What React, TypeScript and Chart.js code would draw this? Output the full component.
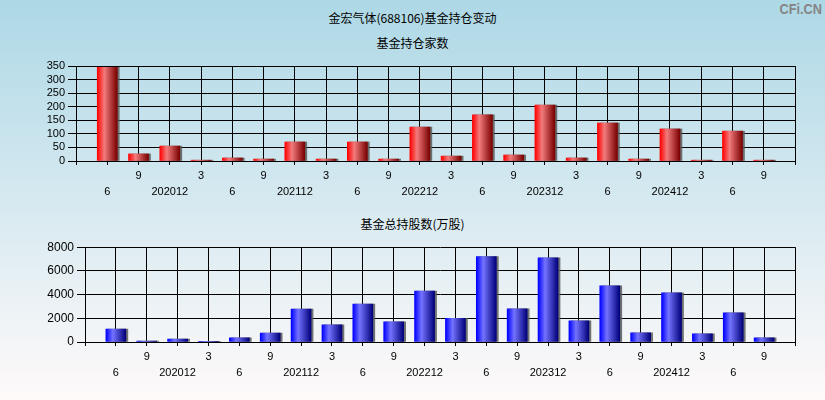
import React, { useEffect, useRef } from 'react';
import { Chart, registerables } from 'chart.js';

Chart.register(...registerables);

// ---- data ----
const periods = [
  '202006', '202009', '202012', '202103', '202106', '202109', '202112', '202203',
  '202206', '202209', '202212', '202303', '202306', '202309', '202312', '202403',
  '202406', '202409', '202412', '202503', '202506', '202509',
];
const tickLabels = [
  '6', '9', '202012', '3', '6', '9', '202112', '3', '6', '9', '202212', '3',
  '6', '9', '202312', '3', '6', '9', '202412', '3', '6', '9',
];
const fundCount = [345, 26, 55, 3, 11, 7, 70, 7, 70, 7, 125, 18, 170, 22, 206, 11, 140, 7, 118, 3, 110, 3];
const fundShares = [1100, 80, 250, 60, 350, 750, 2780, 1450, 3200, 1700, 4300, 2000, 7200, 2800, 7100, 1780, 4740, 780, 4150, 700, 2470, 350];
const countTicks = { max: 350, step: 50 };
const sharesTicks = { max: 8000, step: 2000 };

const mainTitle = '金宏气体(688106)基金持仓变动';
const countTitle = '基金持仓家数';
const sharesTitle = '基金总持股数(万股)';

const NUM_FONT = '"Liberation Sans", Arial, sans-serif';
const CJK_FONT = '"Noto Sans CJK SC", "Noto Sans", sans-serif';

const RED_STOPS: [number, string][] = [[0, '#ff0000'], [0.35, '#f27b7b'], [1, '#7a0000']];
const BLUE_STOPS: [number, string][] = [[0, '#0000ff'], [0.35, '#7373ff'], [1, '#00007a']];

const shadowPlugin = {
  id: 'barShadow',
  beforeDatasetDraw(chart: any) {
    const c = chart.ctx;
    c.save();
    c.shadowColor = 'rgba(90,90,90,0.85)';
    c.shadowOffsetX = 2;
    c.shadowOffsetY = 0;
    c.shadowBlur = 0;
  },
  afterDatasetDraw(chart: any) {
    chart.ctx.restore();
  },
};

function BarPanel(props: {
  values: number[];
  max: number;
  step: number;
  stops: [number, string][];
  axisWidth: number;
  yFontSize: number;
  top: number;
}) {
  const ref = useRef<HTMLCanvasElement | null>(null);
  useEffect(() => {
    if (!ref.current) return;
    const labels = ['', ...periods, ''];
    const data = [null, ...props.values, null];
    const half = 10;
    const chart = new Chart(ref.current, {
      type: 'bar',
      data: {
        labels,
        datasets: [
          {
            data: data as any,
            barThickness: 20,
            borderWidth: 0,
            backgroundColor: (ctx: any) => {
              const ch = ctx.chart;
              const xs = ch.scales && ch.scales.x;
              if (!xs || ctx.type !== 'data') return props.stops[1][1];
              const cx = xs.getPixelForValue(ctx.dataIndex);
              if (!Number.isFinite(cx)) return props.stops[1][1];
              const g = ch.ctx.createLinearGradient(cx - half, 0, cx + half, 0);
              props.stops.forEach(([o, c]) => g.addColorStop(o, c));
              return g;
            },
          },
        ],
      },
      options: {
        responsive: false,
        animation: false,
        layout: { padding: { top: 10, right: 30, left: 0, bottom: 0 } },
        plugins: { legend: { display: false }, tooltip: { enabled: false }, title: { display: false } },
        scales: {
          x: {
            type: 'category',
            offset: false,
            grid: { color: '#000', lineWidth: 1, tickLength: 4, drawOnChartArea: true, offset: false },
            border: { color: '#000', width: 1 },
            ticks: {
              autoSkip: false,
              maxRotation: 0,
              minRotation: 0,
              padding: 3,
              color: '#000',
              font: { family: NUM_FONT, size: 11, lineHeight: '16px' as any },
              callback: (_v: any, index: number) => {
                const i = index - 1;
                if (i < 0 || i >= tickLabels.length) return '';
                return i % 2 === 0 ? ['', tickLabels[i]] : tickLabels[i];
              },
            },
            afterFit: (scale: any) => {
              scale.height = 40;
            },
          },
          y: {
            min: 0,
            max: props.max,
            grid: { color: '#000', lineWidth: 1, tickLength: 8 },
            border: { color: '#000', width: 1 },
            ticks: {
              stepSize: props.step,
              autoSkip: false,
              padding: 3,
              color: '#000',
              font: { family: NUM_FONT, size: props.yFontSize },
              callback: (v: any) => String(v),
            },
            afterFit: (scale: any) => {
              scale.width = props.axisWidth;
            },
          },
        },
      },
      plugins: [shadowPlugin],
    });
    chart.update();
    return () => chart.destroy();
  }, []);
  return (
    <canvas
      ref={ref}
      width={825}
      height={145}
      style={{ position: 'absolute', left: 0, top: props.top, display: 'block' }}
    />
  );
}

const titleStyle: React.CSSProperties = {
  position: 'absolute',
  left: 0,
  width: 825,
  textAlign: 'center',
  fontFamily: CJK_FONT,
  fontSize: 12,
  lineHeight: '16px',
  color: '#000',
};

export default function App() {
  return (
    <div
      style={{
        position: 'fixed',
        left: 0,
        top: 0,
        width: 825,
        height: 400,
        overflow: 'hidden',
        background: 'linear-gradient(to bottom, #add8e6 0%, #fffafa 100%)',
      }}
    >
      <div style={{ ...titleStyle, top: 10 }}>{mainTitle}</div>
      <div style={{ ...titleStyle, top: 35 }}>{countTitle}</div>
      <div style={{ ...titleStyle, top: 216 }}>{sharesTitle}</div>
      <div
        style={{
          position: 'absolute',
          right: 3,
          top: 0,
          fontFamily: NUM_FONT,
          fontWeight: 'bold',
          fontSize: 15,
          color: '#858585',
          transform: 'scaleX(0.85)',
          transformOrigin: 'right top',
        }}
      >
        CFi.CN
      </div>
      <BarPanel values={fundCount} max={countTicks.max} step={countTicks.step} stops={RED_STOPS} axisWidth={76} yFontSize={11} top={56} />
      <BarPanel values={fundShares} max={sharesTicks.max} step={sharesTicks.step} stops={BLUE_STOPS} axisWidth={85} yFontSize={12} top={237} />
    </div>
  );
}
